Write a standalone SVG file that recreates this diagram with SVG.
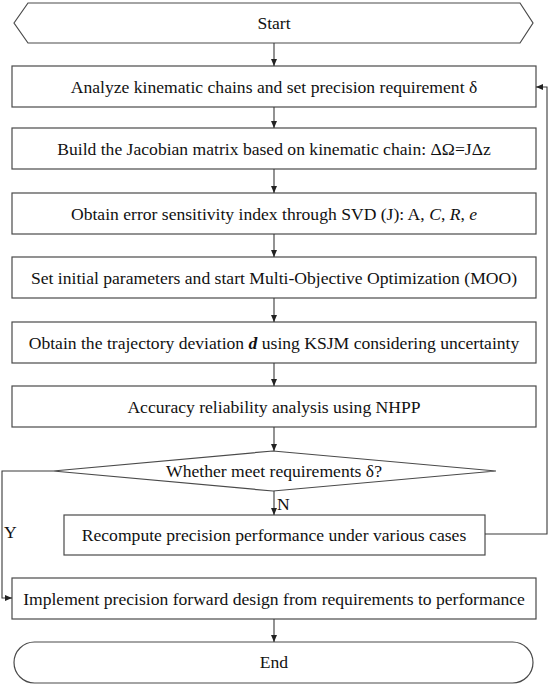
<svg xmlns="http://www.w3.org/2000/svg" width="549" height="685" viewBox="0 0 549 685">
<defs>
<style>
.s{fill:#fff;stroke:#4a4a4a;stroke-width:1.2}
.t{font-family:'Liberation Serif','Times New Roman',Times,serif;font-size:17.6px;fill:#111;text-anchor:middle}
.l{font-family:'Liberation Serif','Times New Roman',Times,serif;font-size:17.6px;fill:#111}
.c{fill:none;stroke:#3a3a3a;stroke-width:1.1}
</style>
<marker id="a" markerWidth="8" markerHeight="8" refX="7" refY="4" orient="auto" markerUnits="userSpaceOnUse">
<path d="M0,1 L7,4 L0,7 Z" fill="#222"/>
</marker>
</defs>
<rect width="549" height="685" fill="#fff"/>
<g id="start"><polygon class="s" points="14,23 28,3 520,3 533,23 520,43 28,43"/><text class="t" x="274" y="29">Start</text></g>
<g id="analyze"><rect class="s" x="12" y="66" width="524" height="41"/><text class="t" x="274" y="93">Analyze kinematic chains and set precision requirement δ</text></g>
<g id="jacobian"><rect class="s" x="12" y="128" width="524" height="41"/><text class="t" x="274" y="155">Build the Jacobian matrix based on kinematic chain: ΔΩ=JΔz</text></g>
<g id="svd"><rect class="s" x="12" y="193" width="524" height="41"/><text class="t" x="274" y="220">Obtain error sensitivity index through SVD (J): A, <tspan font-style="italic">C</tspan>, <tspan font-style="italic">R</tspan>, <tspan font-style="italic">e</tspan></text></g>
<g id="moo"><rect class="s" x="12" y="257" width="524" height="41"/><text class="t" x="274" y="284">Set initial parameters and start Multi-Objective Optimization (MOO)</text></g>
<g id="ksjm"><rect class="s" x="12" y="322" width="524" height="41"/><text class="t" x="274" y="349">Obtain the trajectory deviation <tspan font-style="italic" font-weight="bold">d</tspan> using KSJM considering uncertainty</text></g>
<g id="nhpp"><rect class="s" x="12" y="386" width="524" height="41"/><text class="t" x="274" y="413">Accuracy reliability analysis using NHPP</text></g>
<g id="decision"><polygon class="s" points="273,451 496,471 273,491 53,471"/><text class="t" x="274" y="477">Whether meet requirements δ?</text></g>
<g id="recompute"><rect class="s" x="64" y="515" width="421" height="40"/><text class="t" x="274" y="541">Recompute precision performance under various cases</text></g>
<g id="implement"><rect class="s" x="12" y="578" width="524" height="41"/><text class="t" x="274" y="605">Implement precision forward design from requirements to performance</text></g>
<g id="end"><rect class="s" x="14" y="642" width="519" height="41" rx="20.5" ry="20.5"/><text class="t" x="274" y="668">End</text></g>
<g id="connectors">
<line class="c" x1="274" y1="43" x2="274" y2="66" marker-end="url(#a)"/>
<line class="c" x1="274" y1="107" x2="274" y2="128" marker-end="url(#a)"/>
<line class="c" x1="274" y1="169" x2="274" y2="193" marker-end="url(#a)"/>
<line class="c" x1="274" y1="234" x2="274" y2="257" marker-end="url(#a)"/>
<line class="c" x1="274" y1="298" x2="274" y2="322" marker-end="url(#a)"/>
<line class="c" x1="274" y1="363" x2="274" y2="386" marker-end="url(#a)"/>
<line class="c" x1="274" y1="427" x2="274" y2="451" marker-end="url(#a)"/>
<line class="c" x1="274" y1="491" x2="274" y2="515" marker-end="url(#a)"/>
<line class="c" x1="274" y1="619" x2="274" y2="642" marker-end="url(#a)"/>
<polyline class="c" points="485,534 547,534 547,87 536,87" marker-end="url(#a)"/>
<polyline class="c" points="53,471 2,471 2,598 12,598" marker-end="url(#a)"/>
<text class="l" x="277" y="510">N</text>
<text class="l" x="4" y="538">Y</text>
</g>
</svg>
